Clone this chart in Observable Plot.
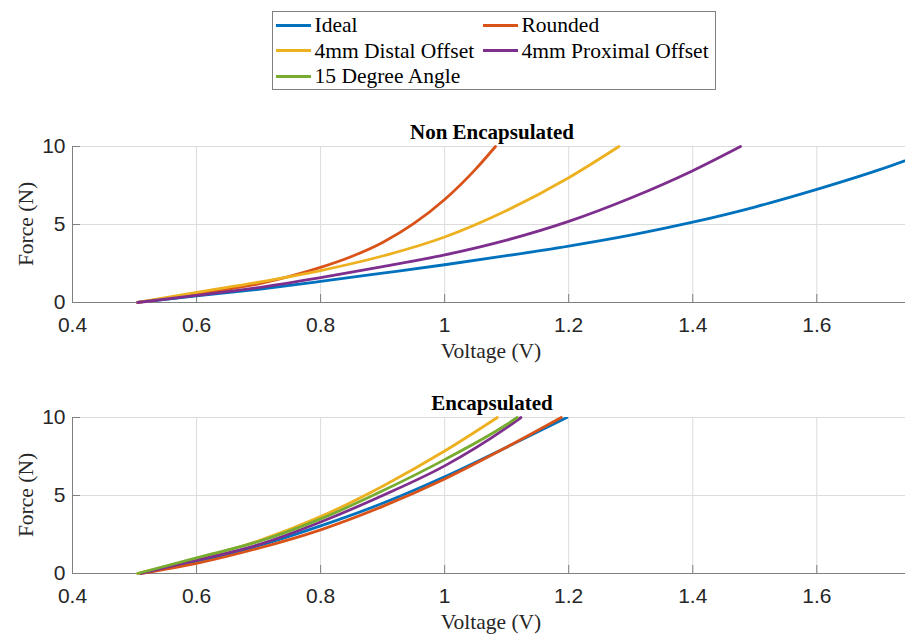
<!DOCTYPE html>
<html><head><meta charset="utf-8">
<script src="https://cdn.jsdelivr.net/npm/d3@7"></script>
<script src="https://cdn.jsdelivr.net/npm/@observablehq/plot@0.6"></script>
<style>
body{margin:0;background:#fff;}
#page{position:relative;width:905px;height:635px;overflow:hidden;background:#fff;font-family:"Liberation Serif","Times New Roman",serif;}
.abs{position:absolute;white-space:nowrap;}
.ttl{font-weight:bold;font-size:21px;line-height:21px;color:#000;transform:translateX(-50%);}
.xl{font-size:21.5px;line-height:21.5px;color:#262626;transform:translateX(-50%);}
.yl{font-size:21.5px;line-height:21.5px;color:#262626;transform:translate(-50%,-50%) rotate(-90deg);}
.leg{font-size:21.5px;line-height:21.5px;color:#000;}
.sw{height:3px;width:35px;}
svg{position:absolute;left:0;}
</style></head><body><div id="page"></div>
<script>
// ---- data ----
const seriesNames = ["Ideal","Rounded","4mm Distal Offset","4mm Proximal Offset","15 Degree Angle"];
const seriesColors = ["#0072BD","#D95319","#EDB120","#7E2F8E","#77AC30"];
const panelTitles = ["Non Encapsulated","Encapsulated"];
const xLabel = "Voltage (V)";
const yLabel = "Force (N)";
const xTicks = [0.4,0.6,0.8,1,1.2,1.4,1.6];
const xTickLabels = ["0.4","0.6","0.8","1","1.2","1.4","1.6"];
const yTicks = [0,5,10];
const yTickLabels = ["0","5","10"];

// Non Encapsulated
const nonIdealV    = [0.505,0.6,0.7,0.8,0.9,1.0,1.1,1.2,1.3,1.4,1.5,1.6,1.7,1.76];
const nonIdealF    = [0,0.42,0.85,1.35,1.88,2.42,3.0,3.62,4.32,5.15,6.12,7.25,8.5,9.35];
const nonRoundedV  = [0.505,0.6,0.7,0.8,0.85,0.9,0.95,1.0,1.05,1.082];
const nonRoundedF  = [0,0.55,1.2,2.25,2.95,3.85,5.05,6.6,8.55,10];
const nonDistalV   = [0.505,0.6,0.7,0.8,0.9,1.0,1.1,1.2,1.281];
const nonDistalF   = [0,0.65,1.3,2.05,2.98,4.2,5.9,8.0,10];
const nonProximalV = [0.505,0.6,0.7,0.8,0.9,1.0,1.1,1.2,1.3,1.4,1.477];
const nonProximalF = [0,0.45,0.96,1.6,2.3,3.05,4.0,5.2,6.7,8.45,10];

// Encapsulated
const encIdealV    = [0.51,0.6,0.7,0.8,0.9,1.0,1.1,1.197];
const encIdealF    = [0,0.78,1.78,3.05,4.5,6.2,8.1,10];
const encRoundedV  = [0.51,0.6,0.7,0.8,0.9,1.0,1.1,1.188];
const encRoundedF  = [0,0.65,1.62,2.8,4.3,6.06,8.1,10];
const encDistalV   = [0.505,0.6,0.7,0.8,0.9,1.0,1.085];
const encDistalF   = [0,0.95,2.1,3.65,5.6,7.85,10];
const encProximalV = [0.51,0.6,0.7,0.8,0.9,1.0,1.1,1.123];
const encProximalF = [0,0.85,1.85,3.3,5.0,6.9,9.35,10];
const encAngleV    = [0.505,0.6,0.7,0.8,0.9,1.0,1.1,1.117];
const encAngleF    = [0,1.0,2.05,3.5,5.3,7.3,9.55,10];

const xDomain = [0.4, 1.743];
const yDomain = [0, 10];

function zipSeries(v, f){ return v.map((x,i)=>({x, y:f[i]})); }

const panels = [
  {title: panelTitles[0], svgTop: 100, series: [
    {i:0, d: zipSeries(nonIdealV, nonIdealF)},
    {i:1, d: zipSeries(nonRoundedV, nonRoundedF)},
    {i:2, d: zipSeries(nonDistalV, nonDistalF)},
    {i:3, d: zipSeries(nonProximalV, nonProximalF)}
  ]},
  {title: panelTitles[1], svgTop: 371, series: [
    {i:0, d: zipSeries(encIdealV, encIdealF)},
    {i:1, d: zipSeries(encRoundedV, encRoundedF)},
    {i:2, d: zipSeries(encDistalV, encDistalF)},
    {i:3, d: zipSeries(encProximalV, encProximalF)},
    {i:4, d: zipSeries(encAngleV, encAngleF)}
  ]}
];

const page = document.getElementById("page");
const W = 905, H = 250, mT = 46, inner = 156, mL = 72;
const axisColor = "#7f7f7f";

panels.forEach(p => {
  const marks = [
    Plot.gridX(xTicks, {stroke:"#dcdcdc", strokeOpacity:1}),
    Plot.gridY([5,10], {stroke:"#dcdcdc", strokeOpacity:1}),
    Plot.ruleX(xTicks, {stroke:axisColor, insetTop: inner-8}),
    Plot.ruleY([5,10], {stroke:axisColor, insetRight: (W-mL)-8}),
    Plot.ruleX([xDomain[0]], {stroke:axisColor}),
    Plot.ruleY([yDomain[0]], {stroke:axisColor}),
    Plot.axisX(xTicks, {tickSize:0, tickPadding:15, fontSize:21, fill:"#262626", tickFormat:(d)=>xTickLabels[xTicks.indexOf(d)], label:null}),
    Plot.axisY(yTicks, {tickSize:0, tickPadding:7, fontSize:21, fill:"#262626", tickFormat:(d)=>yTickLabels[yTicks.indexOf(d)], label:null}),
    ...p.series.map(s => Plot.line(s.d, {x:"x", y:"y", stroke: seriesColors[s.i], strokeWidth:2.8, curve:"monotone-x", clip: s.i===0}))
  ];
  const svg = Plot.plot({
    width: W, height: H,
    marginLeft: mL, marginRight: 0, marginTop: mT, marginBottom: H-mT-inner,
    x: {domain: xDomain},
    y: {domain: yDomain},
    style: {fontFamily: "Liberation Sans, Arial, sans-serif", background: "transparent", overflow: "visible"},
    marks
  });
  svg.style.top = p.svgTop + "px";
  page.appendChild(svg);

  const axisY0 = p.svgTop + mT + inner;
  const plotTop = p.svgTop + mT;
  const t = document.createElement("div");
  t.className = "abs ttl"; t.textContent = p.title;
  t.style.left = "492px"; t.style.top = (plotTop - 7 - 17.2) + "px";
  page.appendChild(t);

  const xl = document.createElement("div");
  xl.className = "abs xl"; xl.textContent = xLabel;
  xl.style.left = "491px"; xl.style.top = (axisY0 + 57 - 18) + "px";
  page.appendChild(xl);

  const yl = document.createElement("div");
  yl.className = "abs yl"; yl.textContent = yLabel;
  yl.style.left = "27px"; yl.style.top = (plotTop + inner/2) + "px";
  page.appendChild(yl);
});

// legend
const legend = document.createElement("div");
legend.className = "abs";
Object.assign(legend.style, {left:"272px", top:"11px", width:"442px", height:"77px", border:"1px solid #808080", background:"#fff"});
page.appendChild(legend);
const colX = [276, 483];
const rowY = [25, 50.7, 76];
seriesNames.forEach((name, i) => {
  const col = i % 2, row = Math.floor(i / 2);
  const sw = document.createElement("div");
  sw.className = "abs sw";
  sw.style.background = seriesColors[i];
  sw.style.left = colX[col] + "px";
  sw.style.top = (rowY[row] - 1.5) + "px";
  page.appendChild(sw);
  const tx = document.createElement("div");
  tx.className = "abs leg"; tx.textContent = name;
  tx.style.left = (colX[col] + 38.5) + "px";
  tx.style.top = (rowY[row] + 8.3 - 18) + "px";
  page.appendChild(tx);
});
</script></body></html>
